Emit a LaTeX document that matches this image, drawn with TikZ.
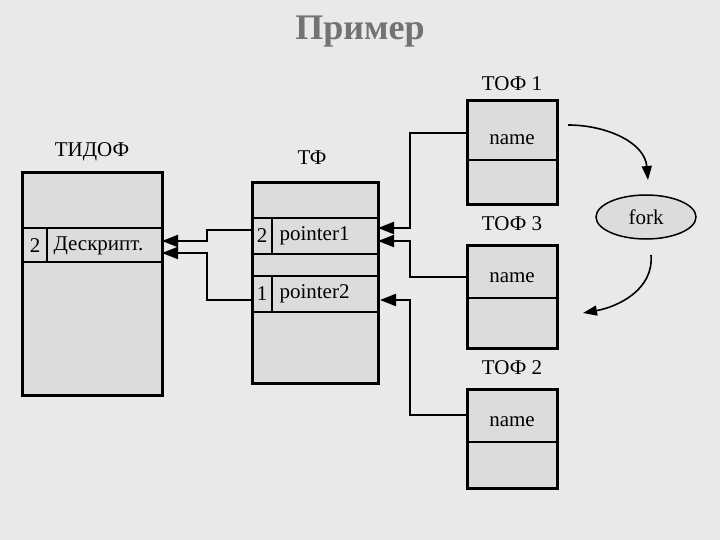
\documentclass[tikz,border=0pt]{standalone}
\usepackage{fontspec}
\setmainfont{Liberation Serif}
\usetikzlibrary{arrows.meta,positioning,shapes.geometric}
\definecolor{bg}{HTML}{E9E9E9}
\definecolor{cell}{HTML}{DCDCDC}
\tikzset{
  frame/.style={draw, line width=3pt, fill=cell},
  sep/.style={line width=2.2pt},
  link/.style={line width=2.2pt, -{Triangle[length=16pt, width=12pt]}},
  lbl/.style={font=\fontsize{21}{23}\selectfont},
}
\begin{document}
\begin{tikzpicture}[x=1pt, y=-1pt]
  \useasboundingbox[fill=bg] (0,0) rectangle (720,540);
  \node[font=\bfseries\fontsize{36}{38}\selectfont, text=gray!90!black] (title) at (360,32) {Пример};

  % ТИДОФ
  \node[lbl] (tidof) at (92,152) {ТИДОФ};
  \draw[frame] (22,173) rectangle (162,395);
  \draw[sep] (22,228) -- (162,228) (22,262) -- (162,262) (47,228) -- (47,262);
  \node[lbl] (d2) at (35,246) {2};
  \node[lbl, anchor=west] (desc) at (50,246) {Дескрипт.};
  \coordinate (din1) at (162,241);
  \coordinate (din2) at (162,253);

  % ТФ
  \node[lbl] (tf) at (312,158) {ТФ};
  \draw[frame] (252,183) rectangle (378,383);
  \draw[sep] (252,218) -- (378,218) (252,254) -- (378,254) (272,218) -- (272,254);
  \draw[sep] (252,276) -- (378,276) (252,312) -- (378,312) (272,276) -- (272,312);
  \node[lbl] (p2n) at (262,236) {2};
  \node[lbl, anchor=west] (p1) at (276,236) {pointer1};
  \node[lbl] (p1n) at (262,294) {1};
  \node[lbl, anchor=west] (p2) at (276,294) {pointer2};
  \coordinate (r1) at (252,230);
  \coordinate (r2) at (252,300);
  \coordinate (tin1) at (378,228);
  \coordinate (tin2) at (378,241);
  \coordinate (tin3) at (380,300);

  % ТОФ
  \node[lbl] (tof1) at (512,84) {ТОФ 1};
  \draw[frame] (467,101) rectangle (557,205);
  \draw[sep] (467,160) -- (557,160);
  \node[lbl] (n1) at (512,140) {name};
  \node[lbl] (tof3) at (512,224) {ТОФ 3};
  \draw[frame] (467,245) rectangle (557,348);
  \draw[sep] (467,298) -- (557,298);
  \node[lbl] (n3) at (512,278) {name};
  \node[lbl] (tof2) at (512,368) {ТОФ 2};
  \draw[frame] (467,389) rectangle (557,488);
  \draw[sep] (467,442) -- (557,442);
  \node[lbl] (n2) at (512,422) {name};
  \coordinate (o1) at (467,133);
  \coordinate (o3) at (467,277);
  \coordinate (o2) at (467,415);

  \node[lbl, draw, line width=1.5pt, fill=cell, ellipse, minimum width=100pt, minimum height=44pt, inner sep=1pt] (fork) at (646,217) {fork};

  % links
  \draw[link] (o1) -| (410,228) -- (tin1);
  \draw[link] (o3) -| (410,241) -- (tin2);
  \draw[link] (o2) -| (410,300) -- (tin3);
  \draw[link] (r1) -| (207,241) -- (din1);
  \draw[link] (r2) -| (207,253) -- (din2);
  \coordinate (c1) at (568,125);
  \coordinate (c2) at (648,180);
  \coordinate (c3) at (651,255);
  \coordinate (c4) at (583,313);
  \draw[line width=1.6pt, -{Triangle[length=14pt, width=10pt]}] (c1) to[out=0, in=95] (c2);
  \draw[line width=1.6pt, -{Triangle[length=14pt, width=10pt]}] (c3) to[out=-85, in=10] (c4);
\end{tikzpicture}
\end{document}
